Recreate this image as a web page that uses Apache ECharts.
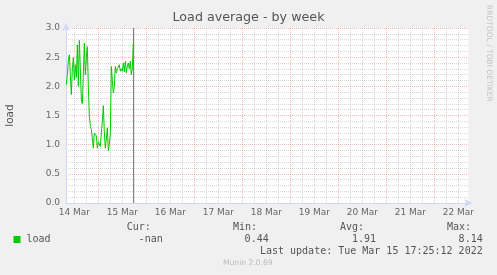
<!DOCTYPE html>
<html>
<head>
<meta charset="utf-8">
<script src="https://cdn.jsdelivr.net/npm/echarts@6/dist/echarts.min.js"></script>
<style>
html,body{margin:0;padding:0;background:#F0F0F0;}
#c{width:497px;height:275px;}
</style>
</head>
<body>
<div id="c"></div>
<script>
// ---- data ----
var titleText = 'Load average - by week';
var yAxisName = 'load';
var seriesName = 'load';
var startTime = Date.UTC(2022, 2, 14, 8, 0);   // first sample
var stepMinutes = 30;
var loadValues = [2.03,2.2,2.45,2.54,2.2,1.86,2.3,2.49,2.11,2.37,
  2.15,2.71,2.0,2.79,2.3,1.77,1.70,2.2,2.74,2.2,
  2.5,2.68,2.0,1.5,1.31,1.26,1.1,0.94,1.2,1.18,
  1.15,0.94,1.05,1.07,0.97,1.2,1.4,1.67,1.2,0.94,
  1.1,1.29,0.9,1.0,1.2,2.34,2.1,1.89,2.0,2.34,
  2.23,2.3,2.28,2.37,2.26,2.3,2.26,2.4,2.25,2.43,
  2.23,2.35,2.4,2.3,2.43,2.2,2.31,2.75];
var axisMin = Date.UTC(2022, 2, 14, 7, 50);
var axisMax = Date.UTC(2022, 2, 22, 17, 0);
var nowTime = Date.UTC(2022, 2, 15, 17, 25);
var dayLabels = ['14 Mar','15 Mar','16 Mar','17 Mar','18 Mar','19 Mar','20 Mar','21 Mar','22 Mar'];
var statHeaders = ['Cur:', 'Min:', 'Avg:', 'Max:'];
var statValues = ['-nan', '0.44', '1.91', '8.14'];
var lastUpdate = 'Last update: Tue Mar 15 17:25:12 2022';
var footer = 'Munin 2.0.69';
var sideText = 'RRDTOOL / TOBI OETIKER';

// ---- derived ----
var H = 3600 * 1000;
var day0 = Date.UTC(2022, 2, 14, 0, 0);
var seriesData = loadValues.map(function (v, i) { return [startTime + i * stepMinutes * 60000, v]; });
var noonTicks = dayLabels.map(function (l, i) { return day0 + i * 24 * H + 12 * H; });
var midnightTicks = [], sixHourTicks = [];
for (var t = day0; t <= axisMax; t += 6 * H) {
  if (t < axisMin) continue;
  if ((t - day0) % (24 * H) === 0) midnightTicks.push(t); else sixHourTicks.push(t);
}
var labelMap = {};
noonTicks.forEach(function (t, i) { labelMap[t] = dayLabels[i]; });

var FONT = 'DejaVu Sans';
var MONO = 'DejaVu Sans Mono';
var txt = '#666666';
var mgrid = 'rgba(230,90,90,0.42)';
var grid = 'rgba(150,150,150,0.38)';
var axisCol = '#CFD6F8';

var chart = echarts.init(document.getElementById('c'), null, {renderer: 'canvas'});

var graphics = [];
var headerX = [126.7, 233, 340, 447];
var valueRight = [162.7, 268.7, 376, 482.7];
statHeaders.forEach(function (h, i) {
  graphics.push({type: 'text', left: headerX[i], top: 222.5,
    style: {text: h, font: '10px ' + MONO, fill: '#555'}});
});
statValues.forEach(function (v, i) {
  graphics.push({type: 'text', right: 497 - valueRight[i], top: 234.5,
    style: {text: v, font: '10px ' + MONO, fill: '#555'}});
});
graphics.push({type: 'text', right: 497 - 482.7, top: 246.3,
  style: {text: lastUpdate, font: '10px ' + MONO, fill: '#555'}});
graphics.push({type: 'text', left: 223, top: 259.5,
  style: {text: footer, font: '7.6px ' + FONT, fill: '#BBBBBB'}});
graphics.push({type: 'text', x: 488.5, y: 53.3, rotation: -Math.PI / 2,
  style: {text: sideText, font: '7.5px ' + FONT, fill: '#C4C4C4', align: 'center', verticalAlign: 'middle'}});

var gridLineData = sixHourTicks.map(function (t) {
  return {xAxis: t, lineStyle: {color: grid, type: [1, 1], width: 1}};
}).concat(midnightTicks.map(function (t) {
  return {xAxis: t, lineStyle: {color: mgrid, type: [1, 1], width: 1}};
}));

chart.setOption({
  backgroundColor: '#F0F0F0',
  animation: false,
  title: {
    text: titleText, left: 'center', top: 11, padding: 0,
    textStyle: {fontFamily: FONT, fontSize: 12.7, fontWeight: 'normal', color: '#555'}
  },
  legend: {
    data: [{name: seriesName, icon: 'rect'}],
    left: 13.5, top: 234.5, itemWidth: 7, itemHeight: 7, itemGap: 5, padding: 0,
    textStyle: {fontFamily: MONO, fontSize: 10, color: '#555', padding: [0, 0, 0, 1]}
  },
  graphic: graphics,
  grid: {left: 66, right: 28.7, top: 28, bottom: 72, show: true, backgroundColor: '#FFFFFF',
    borderWidth: 0, containLabel: false, outerBoundsMode: 'none'},
  xAxis: {
    type: 'value', min: axisMin, max: axisMax, position: 'bottom', z: 3,
    axisLine: {show: true, onZero: false, lineStyle: {color: axisCol, width: 1},
      symbol: ['none', 'arrow'], symbolSize: [6, 8], symbolOffset: [0, 4]},
    axisTick: {show: false},
    splitLine: {show: false},
    axisLabel: {customValues: noonTicks, margin: 5, color: txt, fontFamily: FONT, fontSize: 9,
      formatter: function (v) { return labelMap[v] || ''; }}
  },
  yAxis: {
    type: 'value', min: 0, max: 3, interval: 0.5,
    name: yAxisName, nameLocation: 'middle', nameGap: 50, nameRotate: 90,
    nameTextStyle: {fontFamily: FONT, fontSize: 10.5, color: '#555'},
    axisLine: {show: true, lineStyle: {color: axisCol, width: 1},
      symbol: ['none', 'arrow'], symbolSize: [6, 8], symbolOffset: [0, 5]},
    axisTick: {show: false},
    minorTick: {show: false, splitNumber: 5},
    splitLine: {show: true, lineStyle: {color: mgrid, type: [1, 1], width: 1}},
    minorSplitLine: {show: true, lineStyle: {color: grid, type: [1, 1], width: 1}},
    axisLabel: {margin: 6, color: txt, fontFamily: FONT, fontSize: 9,
      formatter: function (v) { return v.toFixed(1); }}
  },
  series: [{
    name: 'grid', type: 'line', data: [], z: 1, silent: true,
    markLine: {silent: true, symbol: ['none', 'none'], label: {show: false}, animation: false,
      data: gridLineData}
  }, {
    name: seriesName, type: 'line', data: seriesData,
    showSymbol: false, symbol: 'none', z: 5,
    lineStyle: {color: '#00CC00', width: 1}, itemStyle: {color: '#00CC00'},
    markLine: {
      silent: true, symbol: ['none', 'none'], label: {show: false},
      lineStyle: {color: '#808080', type: 'solid', width: 1},
      data: [{xAxis: nowTime}]
    }
  }]
});
</script>
</body>
</html>
